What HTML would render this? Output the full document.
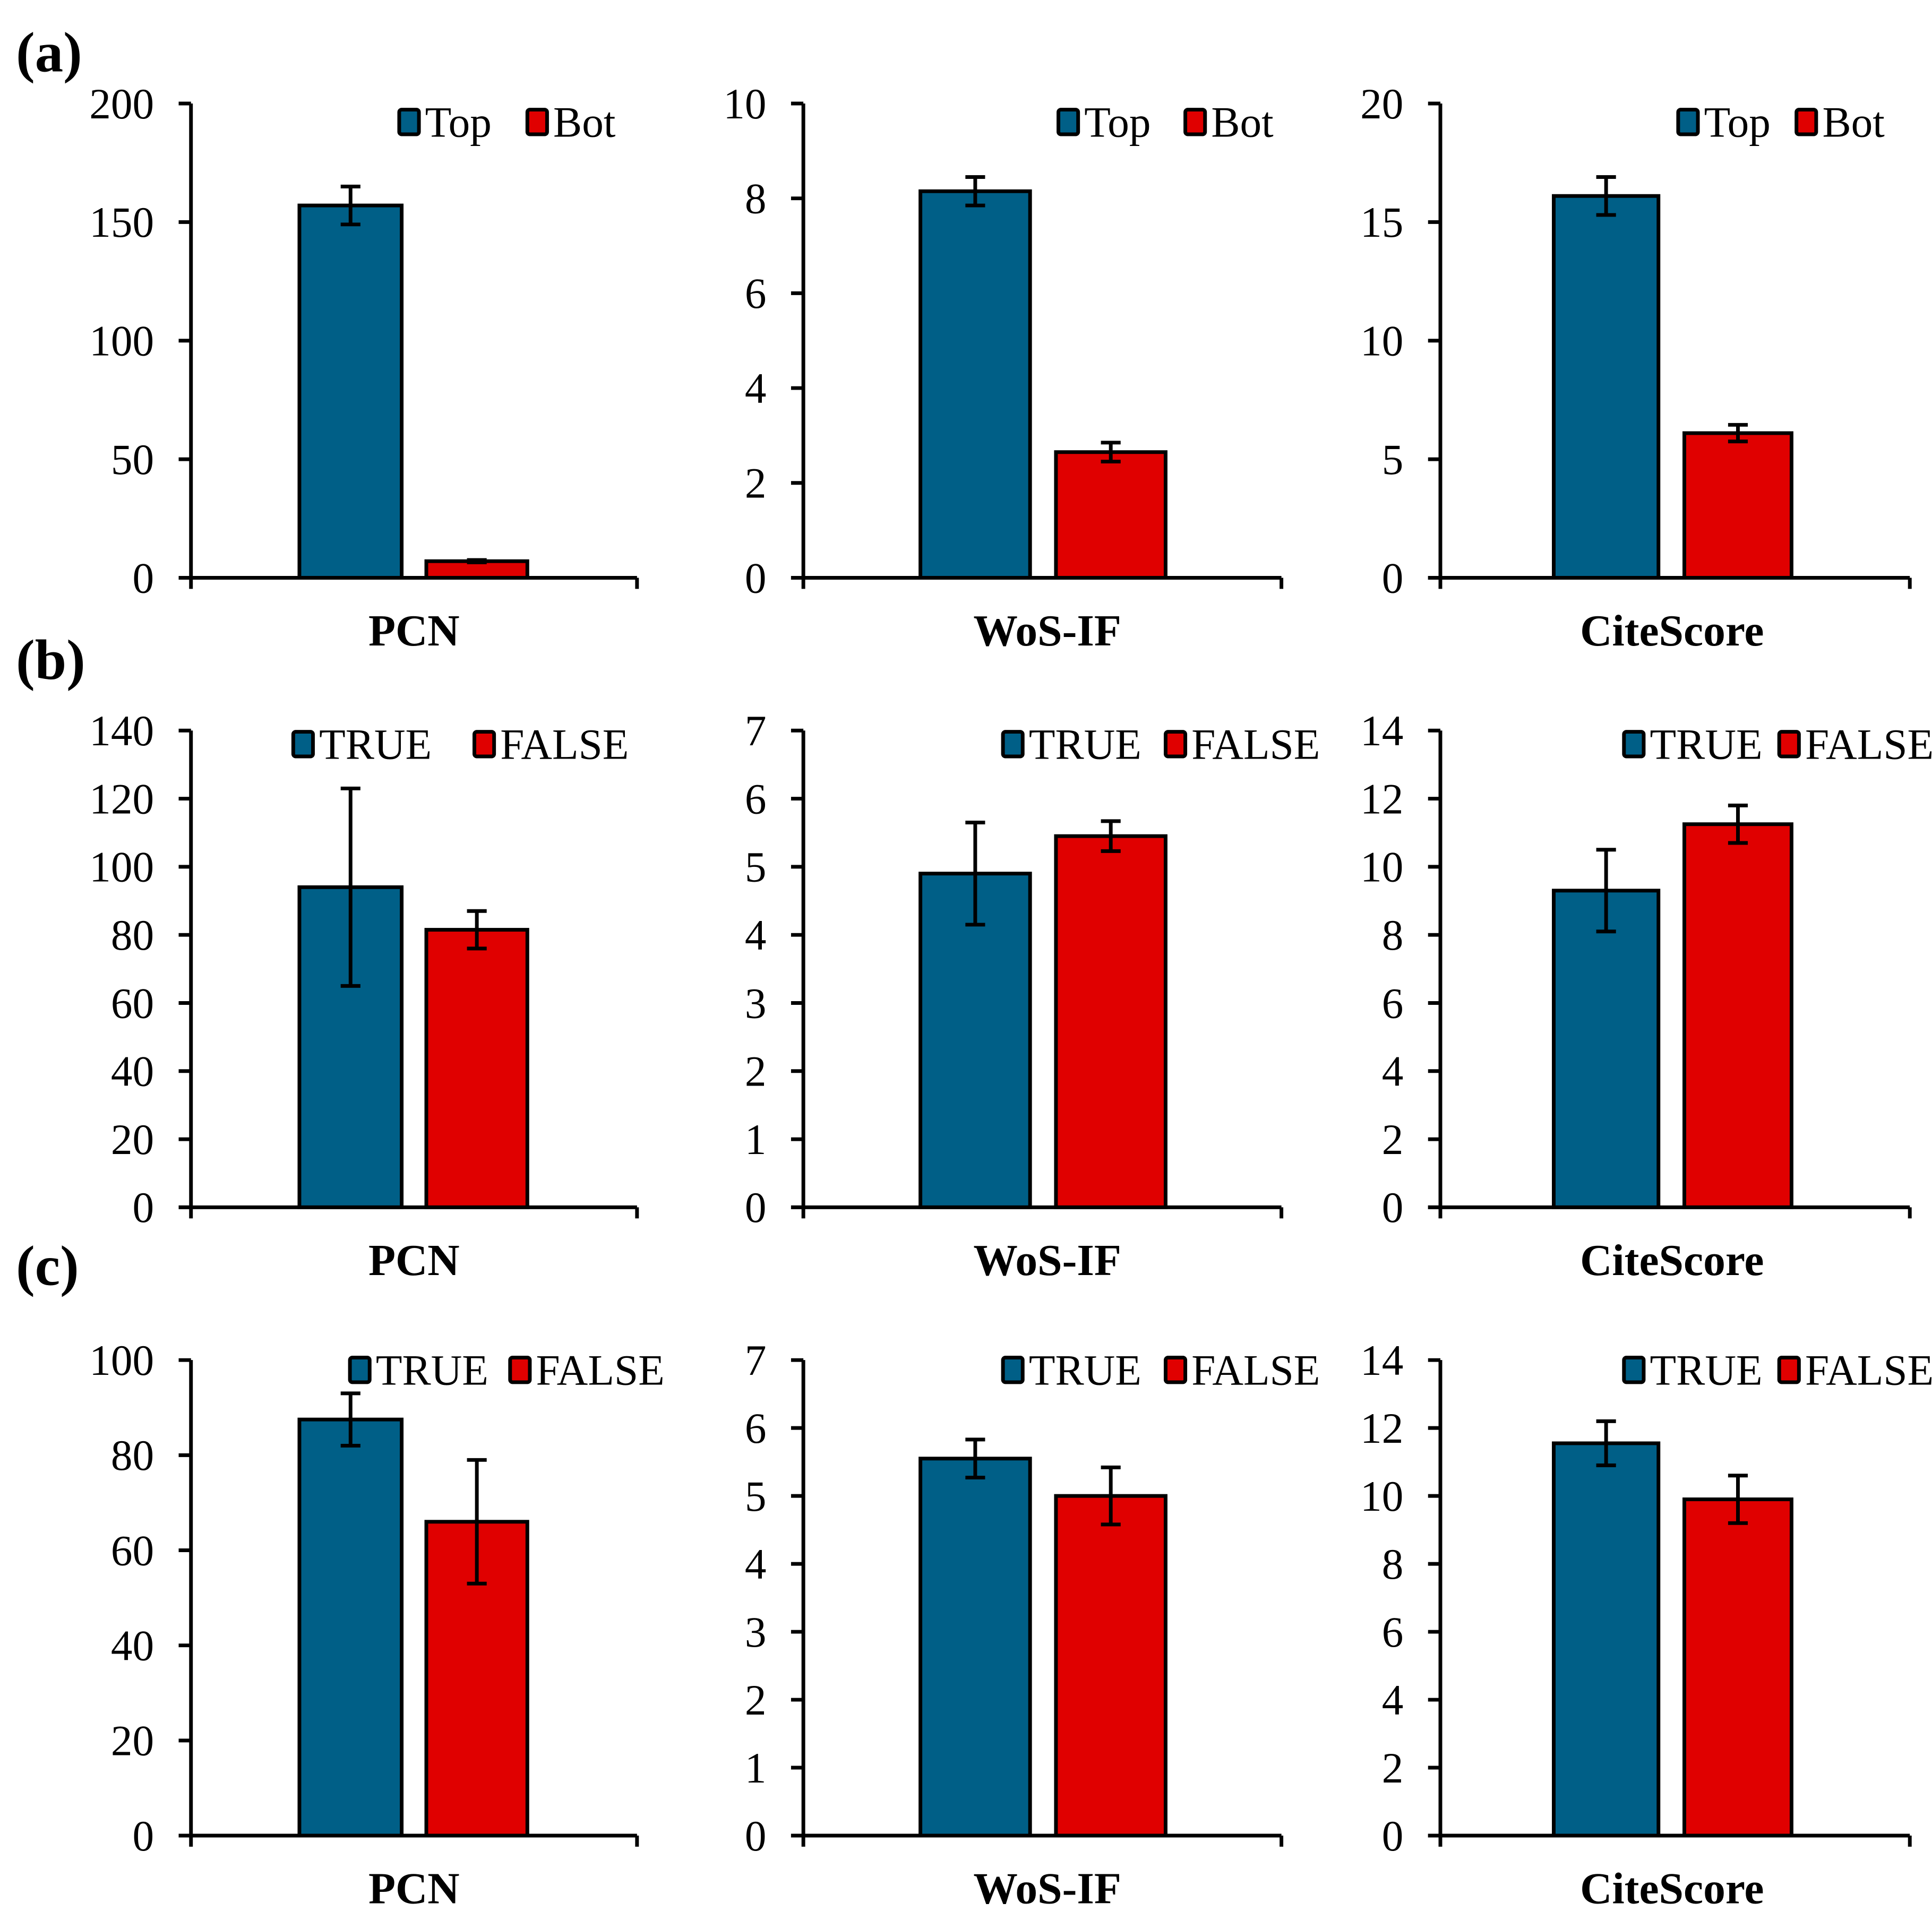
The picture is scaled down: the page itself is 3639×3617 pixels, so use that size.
<!DOCTYPE html>
<html><head><meta charset="utf-8"><style>
html,body{margin:0;padding:0;background:#fff;}
svg{display:block;}
text{font-family:"Liberation Serif",serif;}
</style></head><body>
<svg id="fig" width="3639" height="3617" viewBox="0 0 1568 1558.5" xmlns="http://www.w3.org/2000/svg">
<rect width="1568" height="1558.5" fill="#fff"/>
<text x="13" y="58" font-size="46" font-weight="bold">(a)</text>
<text x="13" y="551" font-size="46" font-weight="bold">(b)</text>
<text x="13" y="1043" font-size="46" font-weight="bold">(c)</text>
</svg>
<script>
const categories = ['PCN', 'WoS-IF', 'CiteScore'];
const rowLegends = [['Top', 'Bot'], ['TRUE', 'FALSE'], ['TRUE', 'FALSE']];
const rowA_values = [[157, 7], [8.15, 2.65], [16.1, 6.1]];
const rowA_errors = [[8, 0.5], [0.3, 0.2], [0.8, 0.35]];
const rowB_values = [[94, 81.5], [4.9, 5.45], [9.3, 11.25]];
const rowB_errors = [[29, 5.5], [0.75, 0.22], [1.2, 0.55]];
const rowC_values = [[87.5, 66], [5.55, 5.0], [11.55, 9.9]];
const rowC_errors = [[5.5, 13], [0.28, 0.42], [0.65, 0.7]];
const rowA_yMax = [200, 10, 20];
const rowA_yStep = [50, 2, 5];
const rowB_yMax = [140, 7, 14];
const rowB_yStep = [20, 1, 2];
const rowC_yMax = [100, 7, 14];
const rowC_yStep = [20, 1, 2];

const NS = 'http://www.w3.org/2000/svg';
const svg = document.getElementById('fig');
const colors = ['#005f87', '#e00000'];
const SW = 3;
const rowsLayout = [
  {top: 84, bottom: 469, label: 524, legY: 99, rowKey: 'a'},
  {top: 593, bottom: 980, label: 1035, legY: 604, rowKey: 'b'},
  {top: 1104, bottom: 1490, label: 1545, legY: 1112, rowKey: 'c'}
];
const colsLayout = [
  {axis: 155, right: 517, bars: [[243, 326], [346, 428]], labelX: 336},
  {axis: 652, right: 1040, bars: [[747, 836], [857, 946]], labelX: 850},
  {axis: 1169, right: 1550, bars: [[1261, 1346], [1367, 1454]], labelX: 1357}
];
const legendPos = [
  [[322, 426], [857, 960], [1360, 1456]],
  [[236, 383], [812, 944], [1316, 1442]],
  [[282, 412], [812, 944], [1316, 1442]]
];
const allValues = [rowA_values, rowB_values, rowC_values];
const allErrors = [rowA_errors, rowB_errors, rowC_errors];
const allMax = [rowA_yMax, rowB_yMax, rowC_yMax];
const allStep = [rowA_yStep, rowB_yStep, rowC_yStep];

function mk(tag, attrs, parent) {
  const e = document.createElementNS(NS, tag);
  for (const k in attrs) e.setAttribute(k, attrs[k]);
  (parent || svg).appendChild(e);
  return e;
}

for (let r = 0; r < 3; r++) {
  const R = rowsLayout[r];
  for (let c = 0; c < 3; c++) {
    const C = colsLayout[c];
    const g = mk('g', {});
    
    
    const yMax = allMax[r][c], step = allStep[r][c];
    const yScale = v => R.bottom - (v / yMax) * (R.bottom - R.top);
    const bottomY = R.bottom;
    for (let s = 0; s < 2; s++) {
      const v = allValues[r][c][s], e = allErrors[r][c][s];
      const [x0, x1] = C.bars[s];
      const bar = mk('rect', {x: x0, y: yScale(v), width: x1 - x0, height: bottomY - yScale(v), fill: colors[s], stroke: '#000', 'stroke-width': SW}, g);
      
      
      const cx = (x0 + x1) / 2;
      const eg = mk('g', {stroke: '#000', 'stroke-width': SW}, g);
      
      
      mk('line', {x1: cx, x2: cx, y1: yScale(v + e), y2: yScale(v - e)}, eg);
      mk('line', {x1: cx - 8, x2: cx + 8, y1: yScale(v + e), y2: yScale(v + e)}, eg);
      mk('line', {x1: cx - 8, x2: cx + 8, y1: yScale(v - e), y2: yScale(v - e)}, eg);
    }
    const yAxis = mk('line', {x1: C.axis, x2: C.axis, y1: R.top, y2: bottomY, stroke: '#000', 'stroke-width': SW}, g);
    
    
    const xAxis = mk('line', {x1: C.axis - 10, x2: C.right, y1: bottomY, y2: bottomY, stroke: '#000', 'stroke-width': SW}, g);
    
    
    mk('line', {x1: C.axis, x2: C.axis, y1: bottomY, y2: bottomY + 9, stroke: '#000', 'stroke-width': SW}, g);
    mk('line', {x1: C.right, x2: C.right, y1: bottomY, y2: bottomY + 9, stroke: '#000', 'stroke-width': SW}, g);
    for (let t = 0; t <= yMax + 1e-9; t += step) {
      const y = yScale(t);
      mk('line', {x1: C.axis - 10, x2: C.axis, y1: y, y2: y, stroke: '#000', 'stroke-width': SW}, g);
      const tl = mk('text', {x: C.axis - 30, y: y + 12, 'font-size': 35, 'text-anchor': 'end'}, g);
      tl.textContent = String(Math.round(t * 100) / 100);
      
      
    }
    const xl = mk('text', {x: C.labelX, y: R.label, 'font-size': 36, 'font-weight': 'bold', 'text-anchor': 'middle'}, g);
    xl.textContent = categories[c];
    
    
    for (let s = 0; s < 2; s++) {
      const lx = legendPos[r][c][s];
      const lg = mk('g', {}, g);
      
      
      mk('rect', {x: lx + 2, y: R.legY - 10, width: 16, height: 20, rx: 2, fill: colors[s], stroke: '#000', 'stroke-width': SW}, lg);
      const lt = mk('text', {x: lx + 23, y: R.legY + 12, 'font-size': 35}, lg);
      lt.textContent = rowLegends[r][s];
    }
  }
}
</script>
</body></html>
